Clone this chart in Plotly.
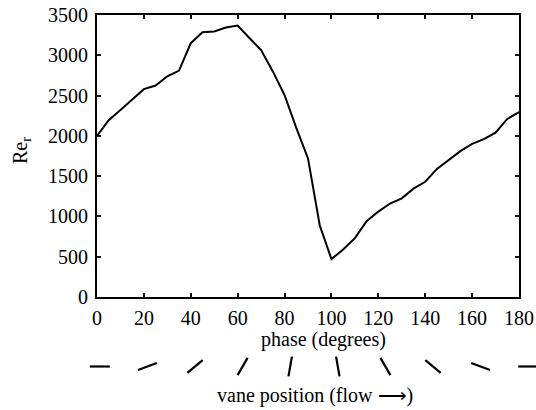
import math
import plotly.graph_objects as go

# ---- data ----
phase_deg = [0, 5, 10, 15, 20, 25, 30, 35, 40, 45, 50, 55, 60, 65, 70, 75, 80, 85, 90,
             95, 100, 105, 110, 115, 120, 125, 130, 135, 140, 145, 150, 155, 160, 165,
             170, 175, 180]
re_r = [2000, 2195, 2320, 2450, 2580, 2625, 2740, 2810, 3150, 3285, 3295, 3345, 3370,
        3215, 3065, 2800, 2505, 2100, 1720, 890, 470, 590, 730, 940, 1060, 1160, 1225,
        1345, 1430, 1590, 1695, 1810, 1900, 1960, 2040, 2210, 2295]
x_ticks = [0, 20, 40, 60, 80, 100, 120, 140, 160, 180]
x_tick_text = ["0", "20", "40", "60", "80", "100", "120", "140", "160", "180"]
y_ticks = [0, 500, 1000, 1500, 2000, 2500, 3000, 3500]
y_tick_text = ["0", "500", "1000", "1500", "2000", "2500", "3000", "3500"]
vane_angles = [0, 20, 40, 60, 80, 100, 120, 140, 160, 180]

FONT = "Liberation Serif, Times New Roman, serif"
W, H = 536, 410
L, R, T, B = 97, 17, 15, 113
PW = W - L - R
PH = H - T - B

fig = go.Figure()
fig.add_trace(go.Scatter(x=phase_deg, y=re_r, mode="lines",
                         line=dict(color="black", width=2), showlegend=False,
                         hoverinfo="skip"))

axis_common = dict(showgrid=False, zeroline=False, showline=True, linecolor="black",
                   linewidth=2, mirror="ticks", ticks="inside", ticklen=4,
                   tickwidth=1.5, tickcolor="black", automargin=False,
                   ticklabeloverflow="allow",
                   tickfont=dict(family=FONT, size=20, color="black"))

fig.update_xaxes(range=[0, 180], tickvals=x_ticks, ticktext=x_tick_text,
                 ticklabelstandoff=2, **axis_common)
fig.update_yaxes(range=[0, 3500], tickvals=y_ticks, ticktext=y_tick_text,
                 ticklabelstandoff=3, **axis_common)


def paper_x(page_px):
    return (page_px - L) / PW


def paper_y(page_py):
    return (H - B - page_py) / PH


annotations = [
    dict(text="phase (degrees)", x=paper_x(323), y=paper_y(339),
         xref="paper", yref="paper", showarrow=False, xanchor="center", yanchor="middle",
         font=dict(family=FONT, size=20, color="black")),
    dict(text="vane position (flow \u27f6)", x=paper_x(315), y=paper_y(396),
         xref="paper", yref="paper", showarrow=False, xanchor="center", yanchor="middle",
         font=dict(family=FONT, size=20, color="black")),
    dict(text="Re<sub>r</sub>", x=paper_x(21), y=paper_y(151),
         xref="paper", yref="paper", showarrow=False, xanchor="center", yanchor="middle",
         textangle=-90, font=dict(family=FONT, size=20, color="black")),
]

shapes = []
half = 10
for i, a in enumerate(vane_angles):
    cx = 99.8 + i * 47.6
    cy = 366.5
    dx = half * math.cos(math.radians(a))
    dy = half * math.sin(math.radians(a))
    shapes.append(dict(type="line", xref="paper", yref="paper",
                       xsizemode="pixel", ysizemode="pixel",
                       xanchor=paper_x(cx), yanchor=paper_y(cy),
                       x0=-dx, x1=dx, y0=-dy, y1=dy,
                       line=dict(color="black", width=2.2)))

fig.update_layout(width=W, height=H, margin=dict(l=L, r=R, t=T, b=B, autoexpand=False),
                  paper_bgcolor="white", plot_bgcolor="white",
                  annotations=annotations, shapes=shapes,
                  font=dict(family=FONT, size=20, color="black"))

fig.write_html("out.html", config={"displayModeBar": False},
               post_script="document.body.style.margin='0';"
                           "document.body.style.overflow='hidden';")
